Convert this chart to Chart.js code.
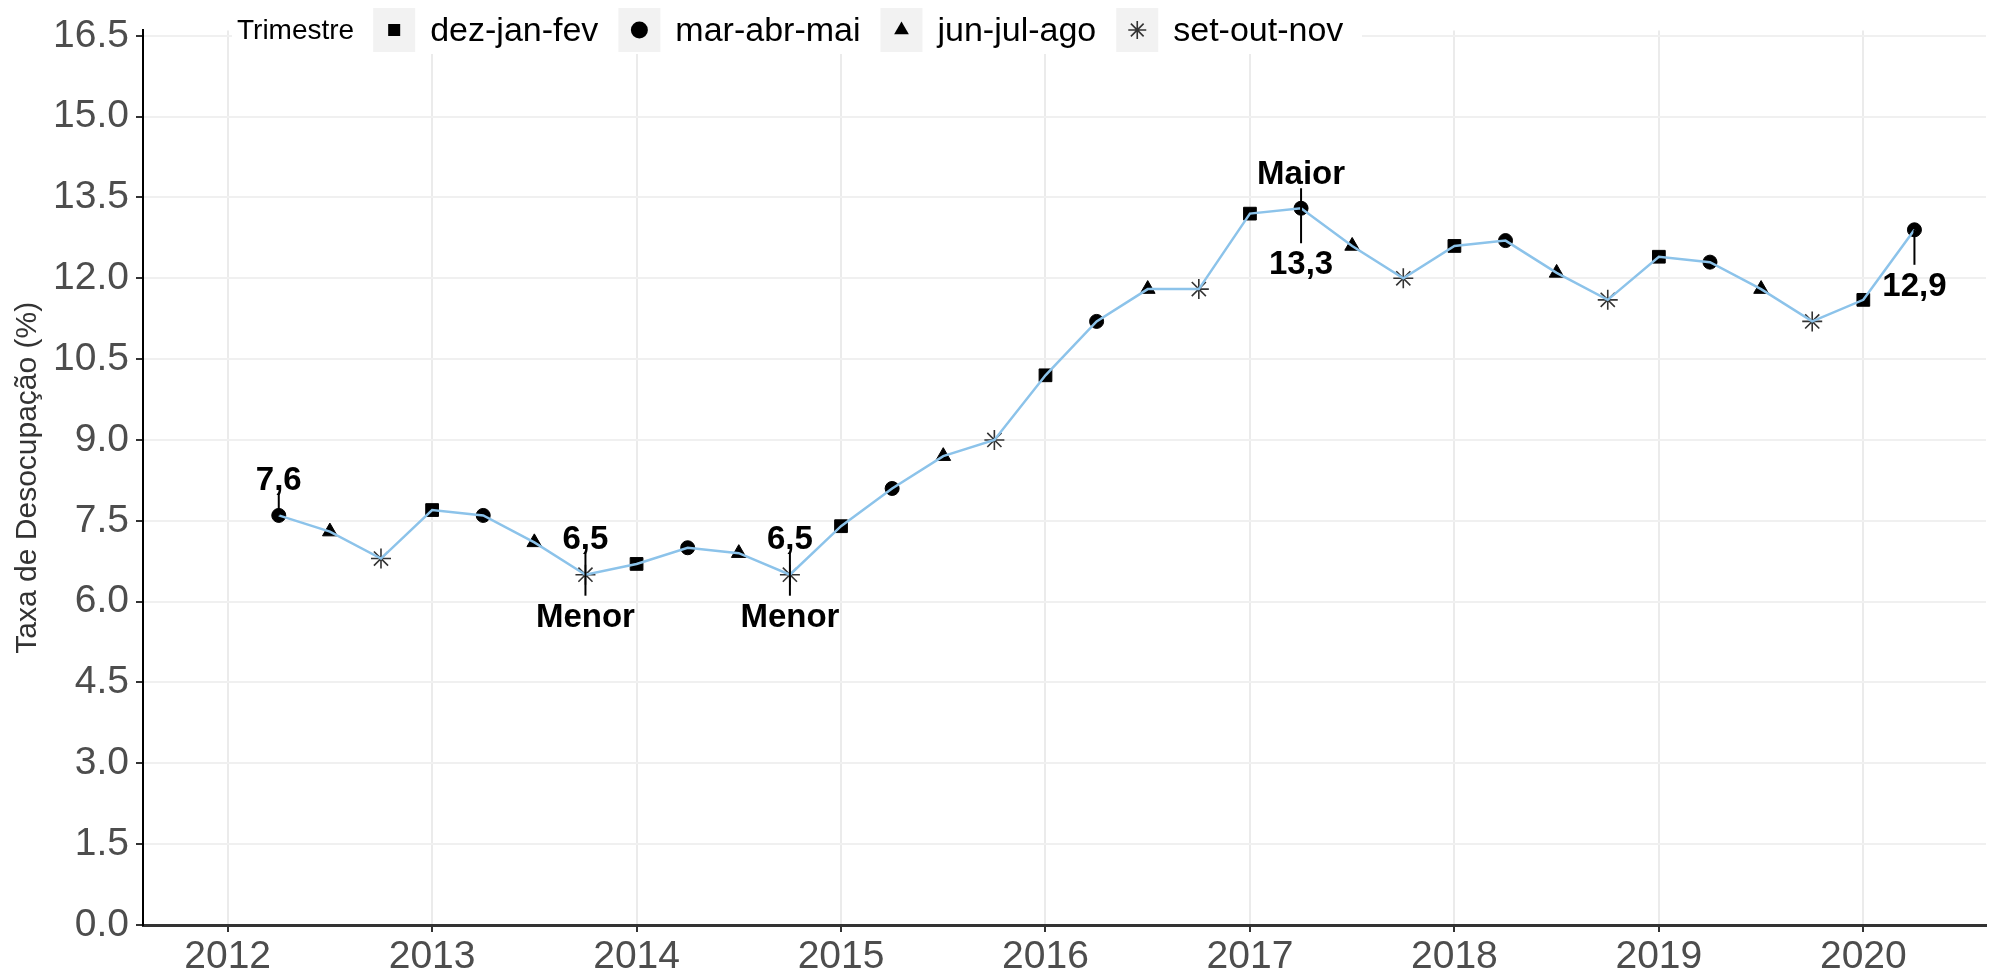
<!DOCTYPE html>
<html>
<head>
<meta charset="utf-8">
<script src="https://cdn.jsdelivr.net/npm/chart.js@4/dist/chart.umd.min.js"></script>
<style>
html, body { margin: 0; padding: 0; background: #fff; }
canvas { display: block; }
</style>
</head>
<body>
<canvas id="grafico" width="1994" height="974"></canvas>
<script>
// posicao no tempo: ano + fracao (0 = dez-jan-fev, .25 = mar-abr-mai, .5 = jun-jul-ago, .75 = set-out-nov)
var periodo = [2012.25, 2012.5, 2012.75,
	2013, 2013.25, 2013.5, 2013.75,
	2014, 2014.25, 2014.5, 2014.75,
	2015, 2015.25, 2015.5, 2015.75,
	2016, 2016.25, 2016.5, 2016.75,
	2017, 2017.25, 2017.5, 2017.75,
	2018, 2018.25, 2018.5, 2018.75,
	2019, 2019.25, 2019.5, 2019.75,
	2020, 2020.25];
var taxa = [7.6, 7.3, 6.8,
	7.7, 7.6, 7.1, 6.5,
	6.7, 7.0, 6.9, 6.5,
	7.4, 8.1, 8.7, 9.0,
	10.2, 11.2, 11.8, 11.8,
	13.2, 13.3, 12.6, 12.0,
	12.6, 12.7, 12.1, 11.6,
	12.4, 12.3, 11.8, 11.2,
	11.6, 12.9];

var categorias = ['dez-jan-fev', 'mar-abr-mai', 'jun-jul-ago', 'set-out-nov'];
var simbolos = ['rect', 'circle', 'triangle', 'star'];

var anosEixo = [2012, 2013, 2014, 2015, 2016, 2017, 2018, 2019, 2020];
var ticksY = [0, 1.5, 3, 4.5, 6, 7.5, 9, 10.5, 12, 13.5, 15, 16.5];

// pontos destacados (indice em periodo/taxa) e seus textos
var destaqueIdx = [0, 6, 10, 20, 32];
var destaqueAcima = ['7,6', '6,5', '6,5', 'Maior', ''];
var destaqueAbaixo = ['', 'Menor', 'Menor', '13,3', '12,9'];

var FONTE = '"Liberation Sans", Arial, sans-serif';

function categoriaDe(i) {
	var f = Math.round((periodo[i] - Math.floor(periodo[i])) * 4);
	return f;
}

function raio(estilo) {
	if (estilo == 'rect') return 9;
	if (estilo == 'circle') return 7;
	if (estilo == 'triangle') return 8.5;
	return 10;
}

function desenhaSimbolo(ctx, estilo, x, y, r) {
	ctx.save();
	ctx.fillStyle = '#000';
	ctx.strokeStyle = '#000';
	ctx.beginPath();
	if (estilo == 'rect') {
		var s = r * Math.SQRT1_2;
		ctx.rect(x - s, y - s, 2 * s, 2 * s);
		ctx.fill();
	} else if (estilo == 'circle') {
		ctx.arc(x, y, r, 0, Math.PI * 2);
		ctx.fill();
	} else if (estilo == 'triangle') {
		ctx.moveTo(x, y - r);
		ctx.lineTo(x + r * 0.866, y + r / 2);
		ctx.lineTo(x - r * 0.866, y + r / 2);
		ctx.closePath();
		ctx.fill();
	} else {
		ctx.strokeStyle = '#333';
		ctx.lineWidth = 1.6;
		for (var k = 0; k < 4; k++) {
			var a = k * Math.PI / 4;
			ctx.moveTo(x - Math.cos(a) * r, y - Math.sin(a) * r);
			ctx.lineTo(x + Math.cos(a) * r, y + Math.sin(a) * r);
		}
		ctx.stroke();
	}
	ctx.restore();
}

var pontos = [];
for (var i = 0; i < periodo.length; i++) {
	pontos.push({ x: periodo[i], y: taxa[i] });
}

// legenda no topo, estilo ggplot
var legendaPlugin = {
	id: 'legendaTrimestre',
	afterDraw: function(chart) {
		var ctx = chart.ctx;
		ctx.save();
		ctx.fillStyle = '#fff';
		ctx.fillRect(232, 0, 1130, 54);
		ctx.textBaseline = 'middle';
		ctx.textAlign = 'left';
		ctx.fillStyle = '#000';
		ctx.font = '28px ' + FONTE;
		var x = 237;
		ctx.fillText('Trimestre', x, 31);
		x += ctx.measureText('Trimestre').width + 19;
		ctx.font = '34px ' + FONTE;
		for (var c = 0; c < categorias.length; c++) {
			ctx.fillStyle = '#f2f2f2';
			ctx.fillRect(x, 8, 42, 44);
			desenhaSimbolo(ctx, simbolos[c], x + 21, 30, c == 3 ? 9 : 8.5);
			x += 42 + 15;
			ctx.fillStyle = '#000';
			ctx.fillText(categorias[c], x, 32);
			x += ctx.measureText(categorias[c]).width + 20;
		}
		ctx.restore();
	}
};

// rotulos com segmento (Maior / Menor / valores)
var rotulosPlugin = {
	id: 'rotulosDestaque',
	afterDatasetsDraw: function(chart) {
		var ctx = chart.ctx;
		var sx = chart.scales.x, sy = chart.scales.y;
		ctx.save();
		ctx.fillStyle = '#000';
		ctx.strokeStyle = '#000';
		ctx.lineWidth = 2;
		ctx.font = 'bold 33px ' + FONTE;
		ctx.textAlign = 'center';
		ctx.textBaseline = 'middle';
		for (var k = 0; k < destaqueIdx.length; k++) {
			var i = destaqueIdx[k];
			var px = sx.getPixelForValue(periodo[i]);
			var py = sy.getPixelForValue(taxa[i]);
			var topo = py, base = py;
			if (destaqueAcima[k]) {
				var dy = destaqueAcima[k] == 'Maior' ? -33 : -35;
				ctx.fillText(destaqueAcima[k], px, py + dy);
				topo = py + dy + 13;
			}
			if (destaqueAbaixo[k]) {
				var dy2 = destaqueAbaixo[k] == 'Menor' ? 43 : 57;
				ctx.fillText(destaqueAbaixo[k], px, py + dy2);
				base = py + dy2 - 22;
			}
			ctx.beginPath();
			ctx.moveTo(px, topo);
			ctx.lineTo(px, base);
			ctx.stroke();
		}
		ctx.restore();
	}
};

var ctx = document.getElementById('grafico');
var grafico = new Chart(ctx, {
	type: 'line',
	data: {
		datasets: [{
			label: 'linha',
			data: pontos,
			borderColor: '#8cc3ea',
			borderWidth: 2.5,
			pointRadius: 0,
			fill: false,
			tension: 0
		}, {
			label: 'Trimestre',
			data: pontos,
			showLine: false,
			pointStyle: function(c) { return simbolos[categoriaDe(c.dataIndex)]; },
			pointRadius: function(c) { return raio(simbolos[categoriaDe(c.dataIndex)]); },
			pointBackgroundColor: '#000',
			pointBorderColor: function(c) { return categoriaDe(c.dataIndex) == 3 ? '#333' : '#000'; },
			pointBorderWidth: function(c) { return categoriaDe(c.dataIndex) == 3 ? 1.6 : 1; }
		}]
	},
	options: {
		responsive: false,
		devicePixelRatio: 1,
		animation: false,
		layout: { padding: { top: 18, right: 0, bottom: 0, left: 0 } },
		plugins: {
			legend: { display: false },
			tooltip: { enabled: false }
		},
		scales: {
			x: {
				type: 'linear',
				min: 2011.586,
				max: 2020.60,
				afterBuildTicks: function(s) {
					s.ticks = anosEixo.map(function(v) { return { value: v }; });
				},
				afterFit: function(s) { s.height = 49; },
				ticks: {
					callback: function(v) { return String(v); },
					font: { family: FONTE, size: 39 },
					color: '#4d4d4d',
					padding: 2,
					maxRotation: 0,
					autoSkip: false
				},
				grid: { color: '#ebebeb', lineWidth: 2, tickColor: '#333', tickLength: 7 },
				border: { color: '#333', width: 3 }
			},
			y: {
				min: 0,
				max: 16.6,
				afterBuildTicks: function(s) {
					s.ticks = ticksY.map(function(v) { return { value: v }; });
				},
				afterFit: function(s) { s.width = 143; },
				ticks: {
					callback: function(v) { return v.toFixed(1); },
					font: { family: FONTE, size: 39 },
					color: '#4d4d4d',
					padding: 7,
					autoSkip: false
				},
				grid: { color: '#f0f0f0', lineWidth: 2, tickColor: '#333', tickLength: 7 },
				border: { color: '#000', width: 2 },
				title: {
					display: true,
					text: 'Taxa de Desocupação (%)',
					font: { family: FONTE, size: 30 },
					color: '#333',
					padding: { top: 10, bottom: 0 }
				}
			}
		}
	},
	plugins: [rotulosPlugin, legendaPlugin]
});
</script>
</body>
</html>
